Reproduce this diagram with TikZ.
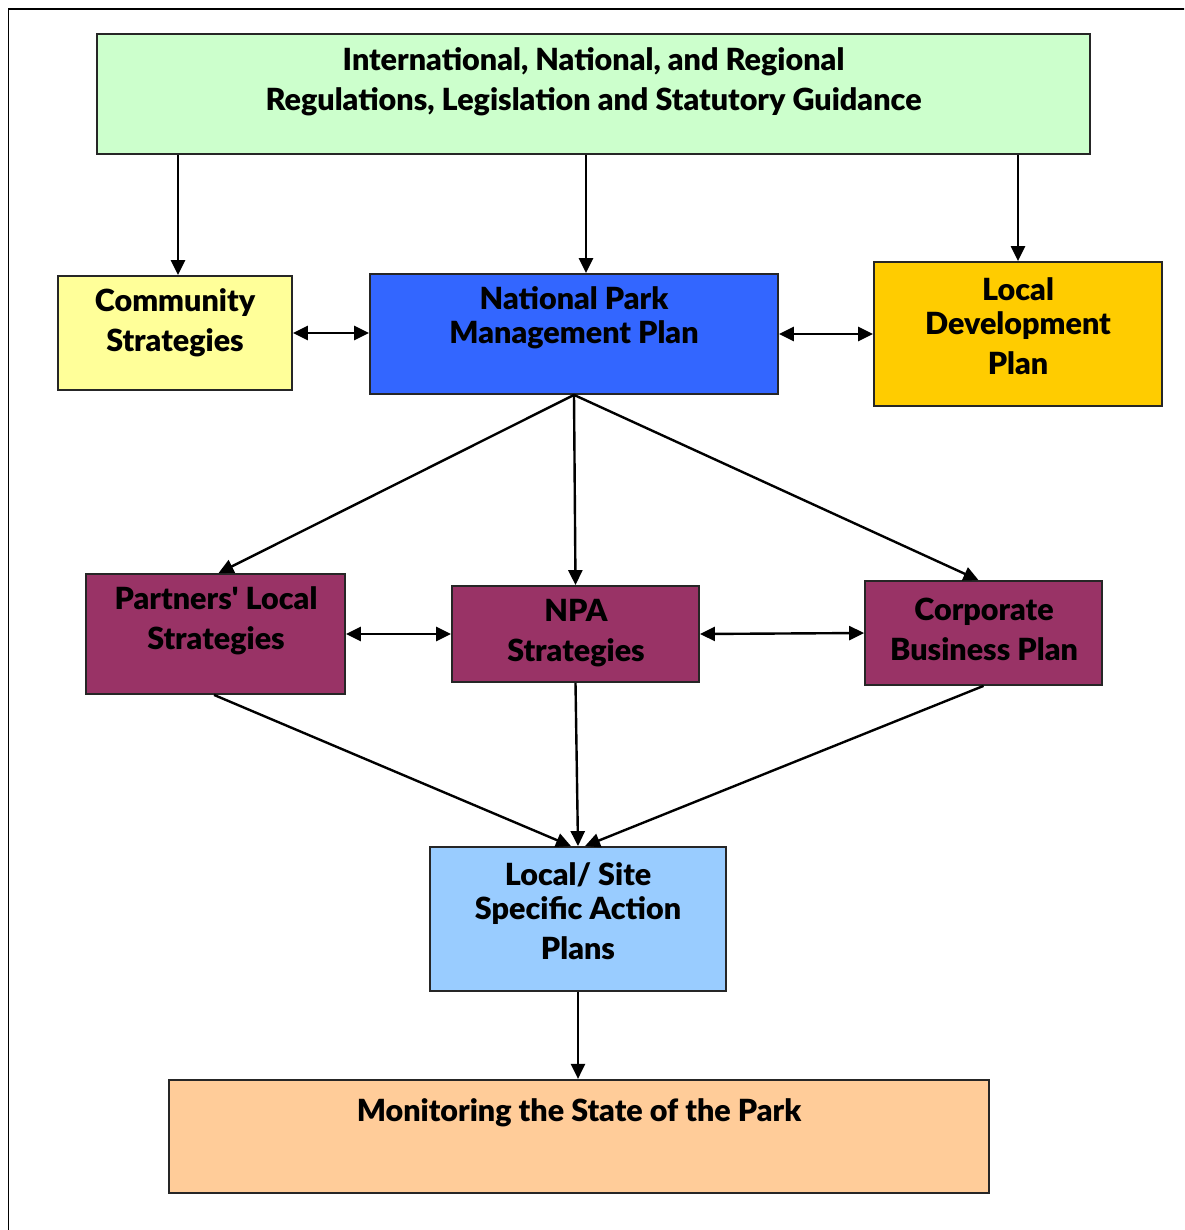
\documentclass[tikz,border=0pt]{standalone}
\usepackage{fontspec}
\IfFontExistsTF{Lato Black}{\setmainfont{Lato}[BoldFont={Lato Black}]\newfontfamily\plainlato{Lato}[BoldFont={Lato Black}]}{\setmainfont{Lato}\newfontfamily\plainlato{Lato}}
\usetikzlibrary{arrows.meta,calc}
\definecolor{cgreen}{HTML}{CCFFCC}
\definecolor{cyellow}{HTML}{FFFF99}
\definecolor{cblue}{HTML}{3366FF}
\definecolor{cgold}{HTML}{FFCC00}
\definecolor{cplum}{HTML}{993366}
\definecolor{clight}{HTML}{99CCFF}
\definecolor{cpeach}{HTML}{FFCC99}
\begin{document}
\begin{tikzpicture}[x=1pt,y=-1pt,
  box/.style={draw=black!85,line width=1.8pt,inner sep=0pt,rectangle},
  txt/.style={inner sep=0pt,align=center,font=\bfseries\fontsize{30.5}{34}\selectfont},
  conn/.style={line width=2.4pt,-{Triangle[length=15pt,width=14pt]}},
  bconn/.style={line width=2.4pt,{Triangle[length=15pt,width=14pt]}-{Triangle[length=15pt,width=14pt]}}]
\useasboundingbox (0,0) rectangle (1184,1230);
\clip (0,0) rectangle (1184,1230);
\draw[line width=1.8pt] (8.5,9) rectangle (1250,1300);
% boxes
\node[box,fill=cgreen,minimum width=993,minimum height=120] (green) at (593.5,94) {};
\node[box,fill=cyellow,minimum width=234,minimum height=114] (comm) at (175,333) {};
\node[box,fill=cblue,minimum width=408,minimum height=120] (npmp) at (574,334) {};
\node[box,fill=cgold,minimum width=288,minimum height=144] (ldp) at (1018,334) {};
\node[box,fill=cplum,minimum width=259,minimum height=120] (part) at (215.5,634) {};
\node[box,fill=cplum,minimum width=247,minimum height=96] (npa) at (575.5,634) {};
\node[box,fill=cplum,minimum width=237,minimum height=104] (corp) at (983.5,633) {};
\node[box,fill=clight,minimum width=296,minimum height=144] (local) at (578,919) {};
\node[box,fill=cpeach,minimum width=820,minimum height=113,line width=2.2pt] (mon) at (579,1136.5) {};
% texts
\node[txt] (greenT) at (593.5,81.5) {International, National, and Regional\\[6pt]Regulations, Legislation and Statutory Guidance};
\node[txt] (commT) at (175,323) {Community\\[6pt]Strategies};
\node[txt] (npmpT) at (574,318) {National Park\\Management Plan};
\node[txt] (ldpT) at (1018,326) {Local\\Development\\[6pt]Plan};
\node[txt] (partT) at (216,621) {Partners{\plainlato\bfseries '} Local\\[6pt]Strategies};
\node[txt] (npaT) at (576,633) {NPA\\[6pt]Strategies};
\node[txt] (corpT) at (984,629) {Corporate\\[6pt]Business Plan};
\node[txt] (localT) at (578,911) {Local/ Site\\Specific Action\\[6pt]Plans};
\node[txt] (monT) at (579,1113) {Monitoring the State of the Park};
% connectors
\draw[conn] (comm.north |- green.south) ++(3,0) -- ([xshift=3]comm.north);
\draw[conn] ([xshift=12]npmp.north |- green.south) -- ([xshift=12]npmp.north);
\draw[conn] (ldp.north |- green.south) -- (ldp.north);
\draw[bconn] (comm.east) -- (npmp.west |- comm.east);
\draw[bconn] (npmp.east) -- (ldp.west);
\draw[conn] (npmp.south) -- ([xshift=3]part.north);
\draw[conn] (npmp.south) -- (npa.north);
\draw[conn] (npmp.south) -- ([xshift=-5]corp.north);
\draw[bconn] (part.east) -- (npa.west);
\draw[bconn] (npa.west -| npa.east) -- (corp.west);
\draw[conn] ([xshift=-1.5]part.south) -- ([xshift=-7]local.north);
\draw[conn] (npa.south) -- (local.north);
\draw[conn] (corp.south) -- ([xshift=7]local.north);
\draw[conn] (local.south) -- (local.south |- mon.north);
\end{tikzpicture}
\end{document}
